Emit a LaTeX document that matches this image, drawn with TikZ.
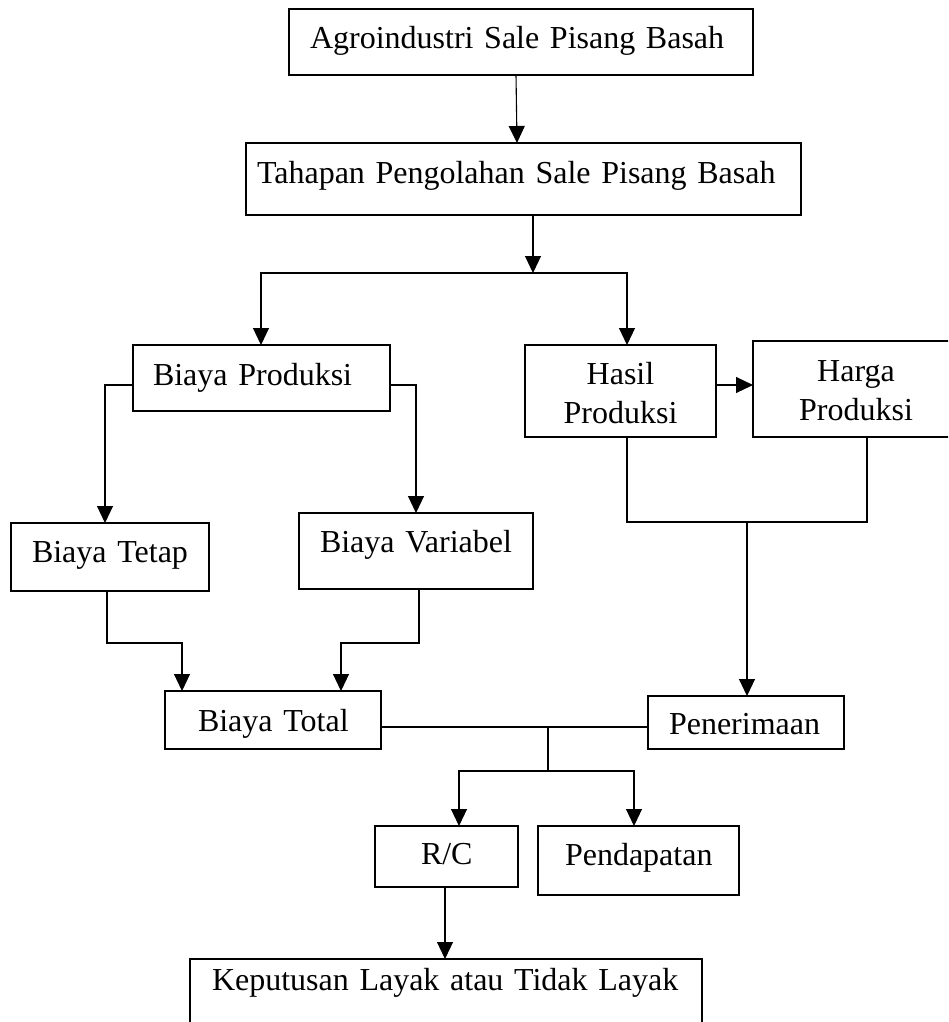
\documentclass[tikz,border=0pt]{standalone}
\usepackage{fontspec}
\setmainfont[WordSpace=0.8]{Liberation Serif}
\usetikzlibrary{arrows.meta,calc}
\tikzset{
  box/.style={draw=black, line width=1.3pt, inner ysep=0pt, outer sep=0pt,
    anchor=north west, align=left, font=\fontsize{32}{39}\selectfont},
  cbox/.style={box, align=center},
  line/.style={draw=black, line width=1.1pt},
  arr/.style={line, -{Triangle[length=17pt,width=16pt]}}
}
\begin{document}
\begin{tikzpicture}[x=1pt,y=-1pt]
\clip (0,0) rectangle (948,1022);
% boxes
\node[box, minimum width=464pt, minimum height=66pt, inner xsep=21pt, text width=422pt, text height=40pt, text depth=26pt] (agro) at (289,9) {\mbox{Agroindustri Sale Pisang Basah}};
\node[box, minimum width=555pt, minimum height=72pt, inner xsep=11pt, text width=533pt, text height=40pt, text depth=32pt] (tahap) at (246,143) {\mbox{Tahapan Pengolahan Sale Pisang Basah}};
\node[box, minimum width=257pt, minimum height=66pt, inner xsep=20pt, text width=217pt, text height=40pt, text depth=26pt] (bprod) at (133,345) {\mbox{Biaya Produksi}};
\node[cbox, minimum width=191pt, minimum height=92pt, inner xsep=5pt, text width=181pt, text height=39pt, text depth=53pt] (hasil) at (525,345) {Hasil\\Produksi};
\node[cbox, minimum width=206pt, minimum height=96pt, inner xsep=5pt, text width=196pt, text height=40pt, text depth=56pt] (harga) at (753,341) {Harga\\Produksi};
\node[box, minimum width=198pt, minimum height=68pt, inner xsep=21pt, text width=156pt, text height=39pt, text depth=29pt] (tetap) at (11,523) {\mbox{Biaya Tetap}};
\node[box, minimum width=234pt, minimum height=76pt, inner xsep=21pt, text width=192pt, text height=39pt, text depth=37pt] (variabel) at (299,513) {\mbox{Biaya Variabel}};
\node[box, minimum width=216pt, minimum height=58pt, inner xsep=33pt, text width=150pt, text height=40pt, text depth=18pt] (total) at (165,691) {\mbox{Biaya Total}};
\node[box, minimum width=196pt, minimum height=53pt, inner xsep=21pt, text width=154pt, text height=38pt, text depth=15pt] (pener) at (648,696) {\mbox{Penerimaan}};
\node[box, minimum width=143pt, minimum height=61pt, inner xsep=46pt, text width=51pt, text height=38pt, text depth=23pt] (rc) at (375,826) {\mbox{R/C}};
\node[box, minimum width=201pt, minimum height=69pt, inner xsep=27pt, text width=147pt, text height=39pt, text depth=30pt] (pend) at (538,826) {\mbox{Pendapatan}};
\node[box, minimum width=512pt, minimum height=90pt, inner xsep=22pt, text width=468pt, text height=31pt, text depth=59pt] (kep) at (190,959) {\mbox{Keputusan Layak atau Tidak Layak}};
% junctions
\coordinate (j1) at (533,273);
\coordinate (j2) at (747,522);
\coordinate (j3) at (548,727);
\coordinate (j4) at (548,771);
% connectors
\draw[arr] ([xshift=227pt]agro.south west) -- ([xshift=271pt]tahap.north west);
\draw[arr] ([xshift=287pt]tahap.south west) -- (j1);
\draw[arr] (j1) -| ([xshift=128pt]bprod.north west);
\draw[arr] (j1) -| ([xshift=102pt]hasil.north west);
\draw[arr] ([yshift=-40pt]bprod.north west) -| ([xshift=94pt]tetap.north west);
\draw[arr] ([yshift=-40pt]bprod.north east) -| ([xshift=117pt]variabel.north west);
\draw[arr] ([yshift=-40pt]hasil.north east) -- ([yshift=-44pt]harga.north west);
\draw[line] ([xshift=102pt]hasil.south west) |- (j2) -| ([xshift=114pt]harga.south west);
\draw[arr] (j2) -- ([xshift=99pt]pener.north west);
\draw[arr] ([xshift=96pt]tetap.south west) -- ++(0,52) -| ([xshift=17pt]total.north west);
\draw[arr] ([xshift=120pt]variabel.south west) -- ++(0,54) -| ([xshift=176pt]total.north west);
\draw[line] ([yshift=-36pt]total.north east) -- ([yshift=-31pt]pener.north west);
\draw[line] (j3) -- (j4);
\draw[arr] (j4) -| ([xshift=84pt]rc.north west);
\draw[arr] (j4) -| ([xshift=96pt]pend.north west);
\draw[arr] ([xshift=70pt]rc.south west) -- ([xshift=255pt]kep.north west);
\end{tikzpicture}
\end{document}
